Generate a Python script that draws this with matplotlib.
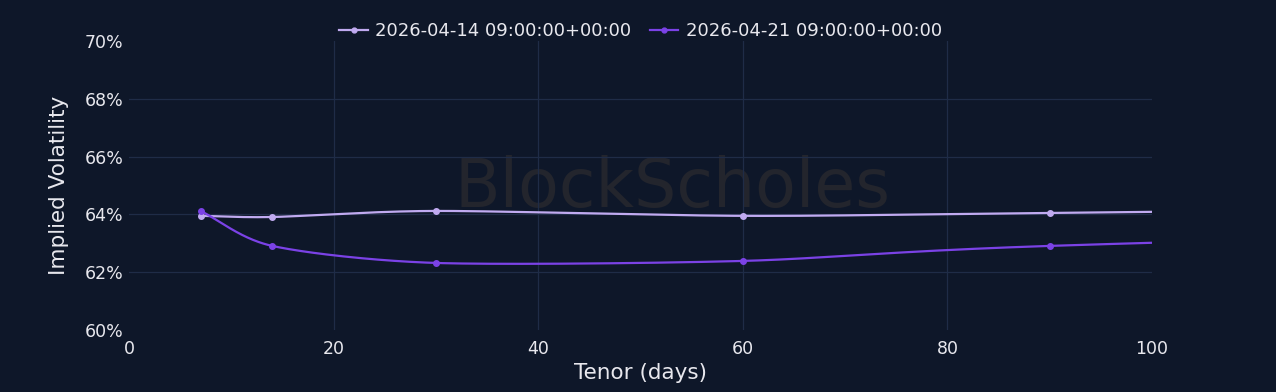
import numpy as np
import matplotlib
matplotlib.use("Agg")
import matplotlib.pyplot as plt

# ---- data ----
tenor_days = [7, 14, 30, 60, 90, 180]
series_names = ["2026-04-14 09:00:00+00:00", "2026-04-21 09:00:00+00:00"]
iv_0414 = [63.95, 63.91, 64.12, 63.95, 64.05, 64.4]
iv_0421 = [64.12, 62.91, 62.32, 62.39, 62.91, 63.8]
y_ticks = [60, 62, 64, 66, 68, 70]
x_ticks = [0, 20, 40, 60, 80, 100]

BG = "#0e1729"
GRID = "#1f2c47"
TXT = "#e8e8ee"
C1 = "#c0aaf0"
C2 = "#7b42e6"


def catmull_rom(x, y, n=60):
    x = np.asarray(x, float)
    y = np.asarray(y, float)
    px = np.concatenate([[2 * x[0] - x[1]], x, [2 * x[-1] - x[-2]]])
    py = np.concatenate([[2 * y[0] - y[1]], y, [2 * y[-1] - y[-2]]])
    xs, ys = [], []
    for i in range(1, len(px) - 2):
        t = np.linspace(0, 1, n)
        for arr, out in ((px, xs), (py, ys)):
            p0, p1, p2, p3 = arr[i - 1], arr[i], arr[i + 1], arr[i + 2]
            m1 = (p2 - p0) / 2 * 0.8
            m2 = (p3 - p1) / 2 * 0.8
            h00 = 2 * t**3 - 3 * t**2 + 1
            h10 = t**3 - 2 * t**2 + t
            h01 = -2 * t**3 + 3 * t**2
            h11 = t**3 - t**2
            out.append(h00 * p1 + h10 * m1 + h01 * p2 + h11 * m2)
    return np.concatenate(xs), np.concatenate(ys)


fig = plt.figure(figsize=(12.76, 3.92), dpi=100, facecolor=BG)
ax = fig.add_axes([129 / 1276, 1 - 330 / 392, (1152 - 129) / 1276, (330 - 41) / 392])
ax.set_facecolor(BG)

# watermark
ax.text(0.531, 0.49, "BlockScholes", transform=ax.transAxes, ha="center", va="center",
        fontsize=48, color="#23252d", zorder=0, family="DejaVu Sans")

for name, vals, c in ((series_names[0], iv_0414, C1), (series_names[1], iv_0421, C2)):
    sx, sy = catmull_rom(tenor_days, vals)
    ax.plot(sx, sy, color=c, lw=1.6, zorder=3, solid_capstyle="round")
    ax.plot(tenor_days, vals, "o", color=c, ms=4, zorder=4)
    ax.plot([], [], color=c, lw=1.6, marker="o", ms=3.5, label=name)

ax.set_xlim(0, 100)
ax.set_ylim(60, 70)
ax.set_xticks(x_ticks)
ax.set_yticks(y_ticks)
ax.set_yticklabels([f"{v}%" for v in y_ticks])
for v in [20, 40, 60, 80]:
    ax.axvline(v, color=GRID, lw=0.9, zorder=1)
for v in [62, 64, 66, 68]:
    ax.axhline(v, color=GRID, lw=0.9, zorder=1)
for s in ax.spines.values():
    s.set_visible(False)
ax.tick_params(length=0, colors=TXT, labelsize=12.5, pad=4)
ax.tick_params(axis="x", pad=7)
for lab in ax.get_xticklabels() + ax.get_yticklabels():
    lab.set_color(TXT)

ax.set_xlabel("Tenor (days)", color=TXT, fontsize=15.5, labelpad=4)
ax.set_ylabel("Implied Volatility", color=TXT, fontsize=15.5, labelpad=11)

leg = fig.legend(loc="upper center", bbox_to_anchor=(0.502, 0.985), ncol=2, frameon=False,
                 fontsize=13.0, labelcolor=TXT, handlelength=1.6, columnspacing=1.0,
                 handletextpad=0.4)

fig.savefig("out.png", dpi=100, facecolor=BG)
